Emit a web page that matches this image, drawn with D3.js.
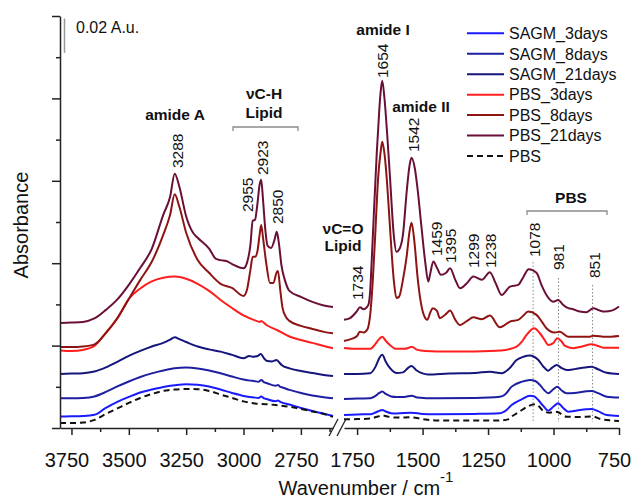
<!DOCTYPE html>
<html>
<head>
<meta charset="utf-8">
<script src="https://cdn.jsdelivr.net/npm/d3@7/dist/d3.min.js"></script>
<style>
html,body{margin:0;padding:0;background:#fff;}
svg text{font-family:"Liberation Sans",Arial,Helvetica,sans-serif;fill:#111;}
</style>
</head>
<body>
<svg id="chart" width="634" height="500"></svg>
<script>
// ===== DATA: [wavenumber (cm-1), absorbance offset (mA.u.)] =====
const seriesNames = ["SAGM_3days","SAGM_8days","SAGM_21days","PBS_3days","PBS_8days","PBS_21days","PBS"];

const SAGM3_L = [[3800,6.7],[3750,6.8],[3700,7.0],[3650,7.7],[3600,11.7],[3550,15.2],[3500,18.1],[3450,20.7],[3400,22.4],[3350,23.9],[3300,24.9],[3250,25.5],[3200,25.2],[3150,24.2],[3100,22.4],[3050,20.4],[3000,18.7],[2955,17.8],[2935,17.5],[2923,18.4],[2910,17.3],[2900,16.9],[2860,15.6],[2850,16.0],[2840,15.2],[2800,13.7],[2750,11.7],[2700,9.9],[2650,8.3],[2610,7.0]];
const SAGM3_R = [[1800,7.6],[1750,7.9],[1700,8.0],[1680,9.0],[1665,10.0],[1654,10.5],[1640,9.6],[1620,8.6],[1600,8.5],[1542,8.9],[1500,8.2],[1450,8.0],[1300,8.2],[1205,8.6],[1185,9.8],[1160,13.4],[1120,16.8],[1090,18.8],[1075,18.5],[1058,16.3],[1040,13.0],[1020,10.1],[1000,12.5],[982,14.4],[965,12.0],[944,9.5],[910,10.2],[875,10.9],[855,11.1],[830,9.8],[797,7.6],[750,7.0]];

const SAGM8_L = [[3800,17.3],[3750,17.3],[3700,17.5],[3650,18.4],[3600,21.0],[3550,24.2],[3500,27.1],[3450,29.7],[3400,31.8],[3350,33.5],[3300,34.8],[3250,35.2],[3200,34.7],[3150,33.5],[3100,31.9],[3050,30.0],[3000,28.3],[2970,27.6],[2955,27.4],[2935,26.9],[2923,27.9],[2910,26.6],[2900,26.2],[2860,24.6],[2850,25.0],[2840,24.0],[2830,23.6],[2800,22.2],[2750,20.4],[2700,18.9],[2650,17.9],[2610,17.3]];
const SAGM8_R = [[1800,16.9],[1750,17.2],[1700,17.3],[1680,18.7],[1665,20.4],[1654,21.2],[1640,19.8],[1620,18.4],[1600,18.1],[1570,18.1],[1542,18.8],[1520,17.8],[1450,17.3],[1300,17.5],[1205,18.2],[1185,19.5],[1160,24.1],[1120,27.0],[1090,28.0],[1070,27.4],[1052,25.1],[1035,22.0],[1020,20.2],[1000,22.7],[986,24.1],[970,22.0],[950,20.2],[920,20.4],[880,21.3],[855,21.6],[830,20.3],[797,18.2],[750,17.7]];

const SAGM21_L = [[3800,31.5],[3750,31.7],[3700,31.9],[3650,32.9],[3600,35.3],[3550,38.5],[3500,42.0],[3450,44.9],[3400,47.5],[3350,49.6],[3320,51.5],[3300,52.9],[3280,51.8],[3250,50.1],[3200,47.5],[3150,45.8],[3100,44.5],[3050,42.6],[3000,40.6],[2975,42.0],[2960,41.5],[2950,41.6],[2935,42.2],[2925,43.1],[2910,40.5],[2900,39.2],[2875,38.8],[2856,39.6],[2845,38.3],[2834,36.7],[2800,34.7],[2750,33.2],[2700,32.1],[2650,30.9],[2610,30.3]];
const SAGM21_R = [[1800,31.5],[1750,31.5],[1700,31.9],[1680,35.6],[1665,40.8],[1654,42.6],[1640,38.5],[1625,35.0],[1600,32.1],[1575,32.4],[1555,35.0],[1542,36.1],[1525,33.8],[1500,31.8],[1480,31.2],[1400,31.8],[1300,32.1],[1243,32.8],[1198,31.9],[1170,34.5],[1141,39.6],[1115,41.5],[1090,42.2],[1075,41.5],[1058,39.6],[1040,36.0],[1020,33.4],[1005,35.2],[988,36.7],[970,35.0],[950,33.8],[920,34.3],[880,35.3],[855,35.7],[830,34.2],[797,32.2],[750,31.5]];

const PBS3_L = [[3800,45.2],[3750,44.9],[3700,45.5],[3650,47.8],[3600,55.4],[3550,63.8],[3500,75.2],[3450,81.3],[3400,85.4],[3350,87.5],[3300,88.2],[3250,86.9],[3200,84.0],[3150,79.9],[3100,74.6],[3050,69.9],[3000,65.6],[2950,62.7],[2930,61.8],[2923,62.3],[2900,60.0],[2850,56.8],[2800,53.3],[2750,51.3],[2700,49.6],[2650,47.8],[2610,46.5]];
const PBS3_R = [[1800,46.6],[1750,46.1],[1700,46.1],[1680,49.0],[1665,51.9],[1654,53.2],[1640,50.7],[1625,48.4],[1600,46.1],[1570,46.1],[1550,46.9],[1542,47.4],[1520,45.5],[1490,44.9],[1400,44.5],[1300,44.6],[1200,45.1],[1160,46.3],[1141,47.4],[1120,50.5],[1103,54.2],[1074,58.1],[1052,55.2],[1035,51.5],[1020,48.4],[1001,49.4],[986,52.3],[970,50.5],[956,47.8],[925,46.5],[890,47.5],[855,48.8],[830,47.8],[810,46.8],[750,46.8]];

const PBS8_L = [[3800,47.2],[3750,47.2],[3700,47.5],[3650,48.7],[3600,55.4],[3550,64.1],[3500,75.2],[3450,86.3],[3400,96.8],[3350,112.5],[3320,124.2],[3300,136.1],[3280,129.0],[3250,113.7],[3200,97.9],[3150,90.4],[3100,84.0],[3050,81.6],[3000,76.9],[2985,80.5],[2970,92.1],[2960,99.7],[2950,99.7],[2940,102.6],[2930,112.5],[2923,118.3],[2915,110.8],[2900,95.0],[2885,84.5],[2870,84.5],[2855,90.9],[2850,91.5],[2840,80.5],[2830,70.0],[2815,64.7],[2800,62.4],[2750,59.5],[2700,57.7],[2650,56.0],[2610,55.2]];
const PBS8_R = [[1800,50.7],[1777,51.6],[1750,53.6],[1740,56.0],[1725,55.7],[1710,57.7],[1700,66.0],[1690,86.0],[1680,115.0],[1670,145.0],[1660,161.0],[1654,166.7],[1645,159.2],[1635,141.7],[1625,118.3],[1610,86.3],[1600,75.8],[1590,76.4],[1575,86.3],[1560,100.9],[1550,114.3],[1542,119.5],[1530,106.7],[1520,89.2],[1505,71.7],[1490,64.1],[1482,63.0],[1470,67.6],[1461,69.8],[1445,68.2],[1434,64.0],[1410,66.5],[1395,68.4],[1375,63.0],[1357,60.0],[1330,62.4],[1306,64.5],[1274,63.4],[1243,65.5],[1205,58.7],[1166,62.0],[1135,63.0],[1115,65.5],[1097,67.8],[1065,65.9],[1045,62.0],[1027,58.1],[995,55.6],[976,56.1],[944,53.2],[900,53.1],[861,53.2],[848,53.8],[800,53.1],[750,53.6]];

const PBS21_L = [[3800,61.2],[3750,61.4],[3700,61.8],[3650,63.8],[3600,68.8],[3550,74.9],[3500,83.4],[3450,93.3],[3400,104.4],[3350,124.2],[3320,134.7],[3300,148.1],[3280,140.7],[3250,123.2],[3220,113.7],[3200,110.8],[3150,104.5],[3120,98.5],[3100,97.8],[3075,97.3],[3050,95.5],[3000,93.0],[2985,96.2],[2970,106.7],[2960,120.7],[2950,121.3],[2940,130.0],[2930,141.7],[2923,144.6],[2915,132.9],[2905,115.4],[2895,106.1],[2880,104.9],[2865,109.6],[2855,114.3],[2845,106.7],[2835,95.0],[2820,86.3],[2800,79.9],[2750,76.4],[2700,73.5],[2650,71.4],[2610,70.5]];
const PBS21_R = [[1800,63.0],[1777,64.0],[1752,67.8],[1739,70.4],[1726,69.2],[1707,71.7],[1700,80.0],[1694,98.0],[1688,118.0],[1675,160.0],[1665,186.0],[1660,195.9],[1654,202.3],[1645,191.2],[1635,170.8],[1625,147.5],[1610,112.5],[1600,102.6],[1590,103.8],[1575,112.5],[1560,138.8],[1550,152.7],[1542,157.4],[1530,151.6],[1520,140.5],[1505,118.3],[1490,96.8],[1478,85.3],[1470,90.5],[1459,97.0],[1445,93.3],[1430,89.2],[1410,90.4],[1395,93.1],[1375,86.3],[1357,81.4],[1330,84.5],[1306,88.2],[1274,86.3],[1243,90.8],[1220,84.0],[1198,77.5],[1166,82.4],[1135,83.4],[1115,88.0],[1095,92.5],[1065,90.4],[1045,83.0],[1027,77.5],[1001,73.6],[982,74.6],[965,72.0],[944,69.8],[925,69.2],[899,67.8],[875,67.5],[848,69.8],[825,68.5],[804,67.8],[775,68.5],[750,70.8]];

const PBS_L = [[3800,2.9],[3750,2.9],[3700,3.2],[3650,4.7],[3600,8.2],[3550,11.4],[3500,14.6],[3450,17.5],[3400,19.8],[3350,21.6],[3300,22.4],[3250,22.7],[3200,22.6],[3150,21.6],[3100,19.5],[3050,17.5],[3000,15.5],[2950,14.3],[2900,13.9],[2850,13.2],[2800,12.4],[2750,11.1],[2700,9.6],[2650,8.2],[2610,6.5]];
const PBS_R = [[1800,5.1],[1750,5.2],[1700,5.5],[1670,6.7],[1654,7.3],[1635,6.7],[1600,6.1],[1542,6.2],[1500,5.2],[1450,4.4],[1300,4.4],[1200,4.4],[1170,5.2],[1160,6.6],[1130,9.5],[1103,12.2],[1071,13.8],[1055,12.5],[1039,9.9],[1014,8.9],[995,9.5],[982,9.2],[965,7.5],[950,6.6],[900,6.4],[851,6.7],[820,5.2],[780,4.4],[750,4.1]];

// axis tick values
const xMajorLeft = [3750,3500,3250,3000,2750];
const xMinorLeft = [3625,3375,3125,2875,2625];
const xMajorRight = [1750,1500,1250,1000,750];
const xMinorRight = [1625,1375,1125,875];
const yMajor = [0,48,96,144,192,240];
const yMinor = [24,72,120,168,216];
const scaleBarValue = 20; // mA.u. = 0.02 A.u.

// peak labels (wavenumbers)
const peakLabelsLeft = [3288,2955,2923,2850];
const peakLabelsRight = [1734,1654,1542,1459,1395,1299,1238,1078,981,851];
const guideLines = [1078,981,851];

// ===== STYLE / LAYOUT =====
const styles = [
  {color:"#1a1aff", dash:null},
  {color:"#1e1ea2", dash:null},
  {color:"#15157c", dash:null},
  {color:"#ff1e1e", dash:null},
  {color:"#8e1414", dash:null},
  {color:"#6a1038", dash:null},
  {color:"#111111", dash:"6,4"}
];
const leftData = [SAGM3_L,SAGM8_L,SAGM21_L,PBS3_L,PBS8_L,PBS21_L,PBS_L];
const rightData = [SAGM3_R,SAGM8_R,SAGM21_R,PBS3_R,PBS8_R,PBS21_R,PBS_R];

const svg = d3.select("#chart");
const yBase = 428, yTop = 16;
const xL = d3.scaleLinear().domain([3800,2610]).range([60,333]);
const xR = d3.scaleLinear().domain([1800,750]).range([344,619]);
const y = d3.scaleLinear().domain([0,240]).range([yBase,yTop]);

function drawPanel(xs, datasets){
  const line = d3.line().x(d=>xs(d[0])).y(d=>y(d[1])).curve(d3.curveMonotoneX);
  datasets.forEach((ds,i)=>{
    svg.append("path").datum(ds)
      .attr("d",line).attr("fill","none")
      .attr("stroke",styles[i].color).attr("stroke-width",2)
      .attr("stroke-linejoin","round")
      .attr("stroke-dasharray",styles[i].dash);
  });
}

// guide dotted lines (behind curves)
const guideTops = [262,278,285];
guideLines.forEach((w,i)=>{
  svg.append("line").attr("x1",xR(w)).attr("x2",xR(w))
    .attr("y1",guideTops[i]).attr("y2",422)
    .attr("stroke","#8a8a8a").attr("stroke-width",1).attr("stroke-dasharray","1.5,2");
});

drawPanel(xL,leftData);
drawPanel(xR,rightData);

// axes
const axisColor = "#222";
function xAxis(xs, majors, minors){
  const gMin = svg.append("g").attr("transform",`translate(0,${yBase})`)
    .call(d3.axisBottom(xs).tickValues(minors).tickFormat("").tickSize(4).tickSizeOuter(0));
  gMin.select(".domain").remove();
  const g = svg.append("g").attr("transform",`translate(0,${yBase})`)
    .call(d3.axisBottom(xs).tickValues(majors).tickFormat(d3.format("d")).tickSize(7).tickPadding(18).tickSizeOuter(0));
  g.selectAll("text").attr("font-size",20).attr("fill","#111").attr("dx",-5)
    .style("font-family","'Liberation Sans',Arial,sans-serif");
  [g,gMin].forEach(gg=>{
    gg.selectAll("line").attr("stroke",axisColor).attr("stroke-width",1.5);
    gg.selectAll(".domain").attr("stroke",axisColor).attr("stroke-width",1.5);
  });
}
xAxis(xL,xMajorLeft,xMinorLeft);
xAxis(xR,xMajorRight,xMinorRight);

// y axis
const gyMin = svg.append("g").attr("transform","translate(60,0)")
  .call(d3.axisLeft(y).tickValues(yMinor).tickFormat("").tickSize(4).tickSizeOuter(0));
gyMin.select(".domain").remove();
const gy = svg.append("g").attr("transform","translate(60,0)")
  .call(d3.axisLeft(y).tickValues(yMajor).tickFormat("").tickSize(8).tickSizeOuter(0));
[gy,gyMin].forEach(gg=>{
  gg.selectAll("line").attr("stroke",axisColor).attr("stroke-width",1.5);
  gg.selectAll(".domain").attr("stroke",axisColor).attr("stroke-width",1.5);
});

// axis break marks
[333.5,341.5].forEach(cx=>{
  svg.append("line").attr("x1",cx-4.5).attr("y1",436).attr("x2",cx+4.5).attr("y2",419)
    .attr("stroke",axisColor).attr("stroke-width",1.3);
});

// axis titles
svg.append("text").attr("transform","translate(28,225) rotate(-90)")
  .attr("text-anchor","middle").attr("font-size",20).text("Absorbance");
const xt = svg.append("text").attr("x",366).attr("y",495).attr("text-anchor","middle").attr("font-size",20);
xt.append("tspan").text("Wavenumber / cm");
xt.append("tspan").attr("font-size",15).attr("dy",-13).text("-1");

// scale bar
svg.append("line").attr("x1",64.5).attr("x2",64.5)
  .attr("y1",y(218.5+scaleBarValue)).attr("y2",y(218.5))
  .attr("stroke","#999").attr("stroke-width",1.5);
svg.append("text").attr("x",76).attr("y",33).attr("font-size",16).text("0.02 A.u.");

// peak labels (rotated)
const leftLabelLayout = [{b:168,dx:0},{b:212,dx:-6.5},{b:175,dx:1},{b:224,dx:0}];
const rightLabelLayout = [{b:300,dx:-4},{b:78,dx:0},{b:152,dx:1.5},{b:256,dx:3},{b:263,dx:0},{b:268,dx:-2},{b:268,dx:-1},{b:257,dx:1},{b:270,dx:0.5},{b:278,dx:2}];
function peakLabel(xs, w, lay){
  svg.append("text")
    .attr("transform",`translate(${xs(w)+lay.dx},${lay.b}) rotate(-90)`)
    .attr("dy","0.35em").attr("font-size",15.5).text(String(w));
}
peakLabelsLeft.forEach((w,i)=>peakLabel(xL,w,leftLabelLayout[i]));
peakLabelsRight.forEach((w,i)=>peakLabel(xR,w,rightLabelLayout[i]));

// band annotations
const bold = (x,yy,t)=>svg.append("text").attr("x",x).attr("y",yy).attr("text-anchor","middle")
  .attr("font-size",15.5).attr("font-weight","bold").text(t);
bold(175,120,"amide A");
bold(264,99,"νC-H");
bold(264,118,"Lipid");
bold(343,234,"νC=O");
bold(343,251,"Lipid");
bold(383,35,"amide I");
bold(421,112,"amide II");
bold(571,203,"PBS");

function bracket(x1,x2,yy){
  svg.append("path").attr("d",`M${x1},${yy+4}V${yy}H${x2}V${yy+4}`)
    .attr("fill","none").attr("stroke","#8a8a8a").attr("stroke-width",1.3);
}
bracket(233,298,127);
bracket(527,607,211);

// legend
const lg = svg.append("g");
seriesNames.forEach((n,i)=>{
  const yy = 33.3 + i*20.45;
  lg.append("line").attr("x1",467).attr("x2",504).attr("y1",yy).attr("y2",yy)
    .attr("stroke",styles[i].color).attr("stroke-width",2)
    .attr("stroke-dasharray",styles[i].dash);
  lg.append("text").attr("x",509).attr("y",yy).attr("dy","0.36em").attr("font-size",16).text(n);
});
</script>
</body>
</html>
